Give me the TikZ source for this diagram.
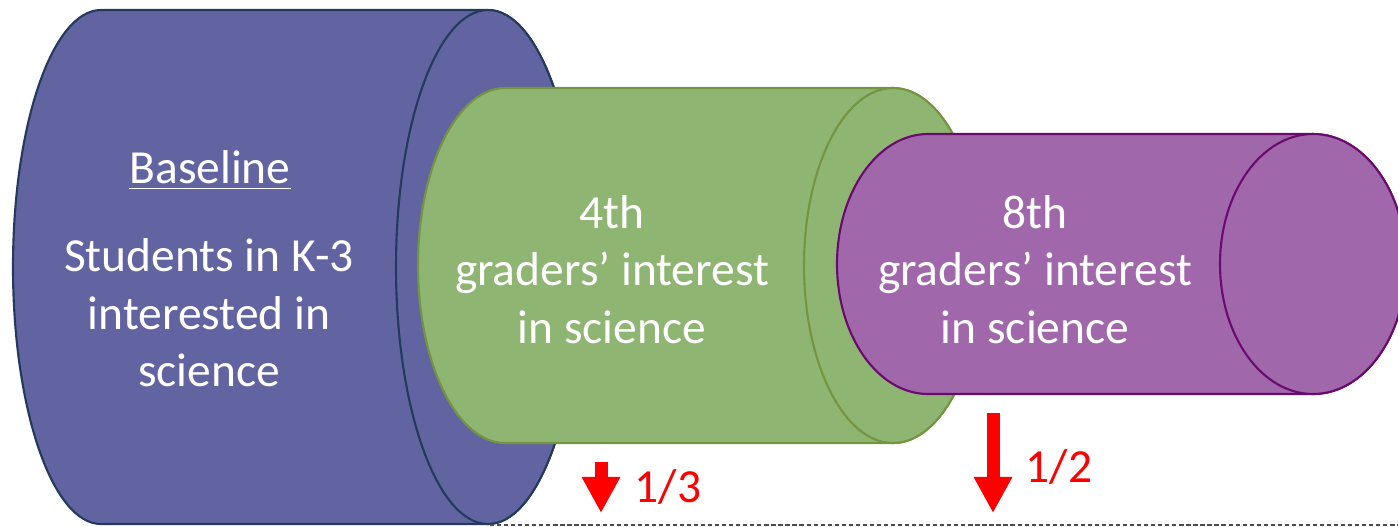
\documentclass[tikz,border=0pt]{standalone}
\usepackage{fontspec}
\setmainfont{Carlito}
\usetikzlibrary{arrows.meta}
\definecolor{baseblue}{HTML}{6164A0}
\definecolor{baseedge}{HTML}{23395D}
\definecolor{fourgreen}{HTML}{8FB573}
\definecolor{fouredge}{HTML}{759440}
\definecolor{eightpurple}{HTML}{A068AB}
\definecolor{eightedge}{HTML}{6B0A6E}
\begin{document}
\begin{tikzpicture}[x=0.01cm,y=0.01cm,
    cyltext/.style={text=white,inner sep=0pt,align=center,font=\fontsize{13.5}{16.4}\selectfont},
    downarrow/.style={red,line width=0.13cm,-{Triangle[width=0.36cm,length=0.36cm]}},
    share/.style={text=red,inner sep=0pt,anchor=base west,font=\fontsize{13.5}{16.4}\selectfont}]
    \useasboundingbox (0,0) rectangle (1398,526);
    % baseline
    \draw [fill=baseblue, draw=baseedge, line width=0.6pt] (101,516) -- (488,516) arc[start angle=90,end angle=-90,x radius=92,y radius=257] -- (101,2) arc[start angle=270,end angle=90,x radius=88,y radius=257] -- cycle;
    \draw [fill=baseblue, draw=baseedge, line width=0.6pt] (488,259) ellipse [x radius=92,y radius=257];
    % 4th grade
    \draw [fill=fourgreen, draw=fouredge, line width=0.6pt] (505,438) -- (893,438) arc[start angle=90,end angle=-90,x radius=89,y radius=177.5] -- (505,83) arc[start angle=270,end angle=90,x radius=87,y radius=177.5] -- cycle;
    \draw [fill=fourgreen, draw=fouredge, line width=0.6pt] (893,260.5) ellipse [x radius=89,y radius=177.5];
    % 8th grade
    \draw [fill=eightpurple, draw=eightedge, line width=0.6pt] (928,392) -- (1313,392) arc[start angle=90,end angle=-90,x radius=93,y radius=130] -- (928,132) arc[start angle=270,end angle=90,x radius=91,y radius=130] -- cycle;
    \draw [fill=eightpurple, draw=eightedge, line width=0.6pt] (1313,262) ellipse [x radius=93,y radius=130];
    \node [cyltext, anchor=base] (baseline) at (210,343) {\underline{Baseline}};
    \node [cyltext] (k3) at (209,213) {Students in K-3\\interested in\\science};
    \node [cyltext] (fourth) at (612,256.5) {4th\\graders’ interest\\in science};
    \node [cyltext] (eighth) at (1035,256.5) {8th\\graders’ interest\\in science};
    % drops
    \coordinate (third top) at (601,64);
    \coordinate (third tip) at (601,13);
    \draw [downarrow] (third top) -- (third tip);
    \node [share] (third) at (634,24) {1/3};
    \coordinate (half top) at (993,113);
    \coordinate (half tip) at (993,13);
    \draw [downarrow] (half top) -- (half tip);
    \node [share] (half) at (1025,44) {1/2};
    \coordinate (floor left) at (490,1);
    \coordinate (floor right) at (1398,1);
    \draw [black!70, line width=0.3pt, dash pattern=on 1.2pt off 0.8pt] (floor left) -- (floor right);
\end{tikzpicture}
\end{document}
